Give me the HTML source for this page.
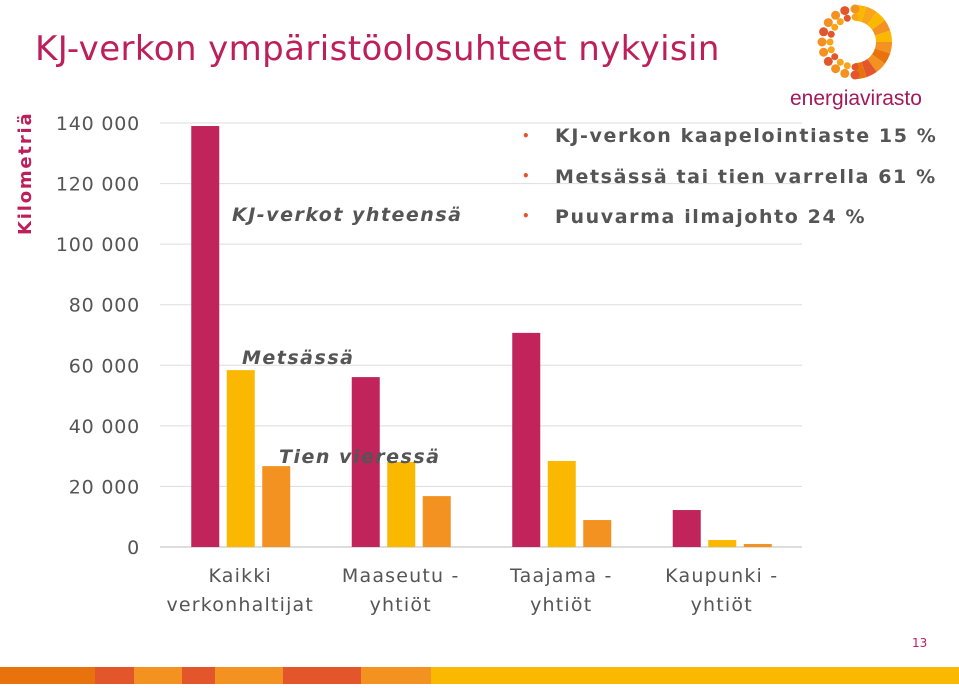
<!DOCTYPE html>
<html><head><meta charset="utf-8"><style>
body{margin:0;background:#fff;width:959px;height:684px;overflow:hidden;font-family:"DejaVu Sans","Liberation Sans",sans-serif}
</style></head><body>
<svg id="s" width="959" height="684" xmlns="http://www.w3.org/2000/svg">
<text x="35" y="60" font-size="34" letter-spacing="0.4" fill="#be1e5a">KJ-verkon ympäristöolosuhteet nykyisin</text>
<text transform="translate(31,235) rotate(-90)" font-size="18" letter-spacing="1.8" font-weight="bold" fill="#be1e5a">Kilometriä</text>
<g id="logo"></g>
<text x="790" y="105" font-size="21" fill="#a3195b" font-family="Liberation Sans">energiavirasto</text>
<g id="grid"></g><g id="bars"></g><g id="labels"></g>
<g font-size="19" letter-spacing="1.6" fill="#555" font-weight="bold">
<text x="522" y="140" fill="#e3552a" font-size="12">•</text><text x="555" y="142">KJ-verkon kaapelointiaste 15 %</text>
<text x="522" y="180" fill="#e3552a" font-size="12">•</text><text x="555" y="183">Metsässä tai tien varrella 61 %</text>
<text x="522" y="220" fill="#e3552a" font-size="12">•</text><text x="555" y="223">Puuvarma ilmajohto 24 %</text>
</g>
<g font-size="19" letter-spacing="1.5" font-style="italic" font-weight="bold" fill="#555">
<text x="232" y="221">KJ-verkot yhteensä</text>
<text x="242" y="364">Metsässä</text>
<text x="279" y="463">Tien vieressä</text>
</g>
<text x="912" y="647" font-size="12" fill="#be1e5a">13</text>
<g id="stripe"></g>
</svg>
<script>
const categories=[["Kaikki","verkonhaltijat"],["Maaseutu -","yhtiöt"],["Taajama -","yhtiöt"],["Kaupunki -","yhtiöt"]];
const totalValues=[139000,56100,70700,12200];
const forestValues=[58400,28100,28400,2300];
const roadsideValues=[26700,16800,8900,1000];
const yTicks=[0,20000,40000,60000,80000,100000,120000,140000];
const ns="http://www.w3.org/2000/svg";
function mk(t,a,p){const e=document.createElementNS(ns,t);for(const k in a)e.setAttribute(k,a[k]);p.appendChild(e);return e;}
const x0=160,x1=802,y0=547,yTop=123,vMax=140000;
const y=v=>y0-(v/vMax)*(y0-yTop);
const bw=(x1-x0)/categories.length;
const grid=document.getElementById('grid');
yTicks.forEach(t=>{
 const l=mk('line',{x1:x0,x2:x1,y1:y(t),y2:y(t),stroke:t===0?'#bbb':'#ddd','stroke-width':1},grid);
 
 const tx=mk('text',{x:140,y:y(t)+7,'text-anchor':'end','font-size':19,'letter-spacing':0.8,fill:'#555'},grid);
 tx.textContent=t===0?'0':(t/1000)+' 000';
 
});
const bars=document.getElementById('bars');
const series=[[totalValues,'#c0245a','total'],[forestValues,'#fbb800','forest'],[roadsideValues,'#f39121','roadside']];
categories.forEach((c,i)=>{
 const cx=x0+bw*i+bw/2;
 series.forEach((s,j)=>{
  const bx=cx-49+j*35.5;
  const r=mk('rect',{x:bx,y:y(s[0][i]),width:28,height:y0-y(s[0][i]),fill:s[1]},bars);
  
 });
 c.forEach((ln,k)=>{
  const t=mk('text',{x:cx,y:582+k*29,'text-anchor':'middle','font-size':19,'letter-spacing':1.2,fill:'#555'},document.getElementById('labels'));
  t.textContent=ln;
  
 });
});
const st=document.getElementById('stripe');
[[0,95,'#e8720c'],[95,134,'#e3552a'],[134,182,'#f39121'],[182,215,'#e3552a'],[215,283,'#f39121'],[283,361,'#e3552a'],[361,431,'#f39121'],[431,959,'#fbb800']].forEach(s=>mk('rect',{x:s[0],y:667,width:s[1]-s[0],height:17,fill:s[2]},st));
const lg=document.getElementById('logo');const cx=855,cy=42;
const cols=['#fbb800','#f9a51a','#fbb800','#f39121','#fbb800','#f39121','#e8720c','#f39121','#e3552a','#e8720c'];
for(let i=0;i<10;i++){const a1=-Math.PI/2+i*Math.PI/10,a2=a1+Math.PI/10;const R=37,r=21;
 const p=`M${cx+r*Math.cos(a1)},${cy+r*Math.sin(a1)} L${cx+R*Math.cos(a1)},${cy+R*Math.sin(a1)} A${R},${R} 0 0 1 ${cx+R*Math.cos(a2)},${cy+R*Math.sin(a2)} L${cx+r*Math.cos(a2)},${cy+r*Math.sin(a2)} A${r},${r} 0 0 0 ${cx+r*Math.cos(a1)},${cy+r*Math.sin(a1)}Z`;
 mk('path',{d:p,fill:cols[i]},lg);}
for(let i=0;i<=10;i++){const a=Math.PI/2+i*Math.PI/10;
 [[33,4.5,'#f39121'],[25,3.5,'#f9a51a']].forEach(d=>mk('circle',{cx:cx+d[0]*Math.cos(a),cy:cy+d[0]*Math.sin(a),r:d[1],fill:i%3===0?'#e3552a':d[2]},lg));}
</script>
</body></html>
